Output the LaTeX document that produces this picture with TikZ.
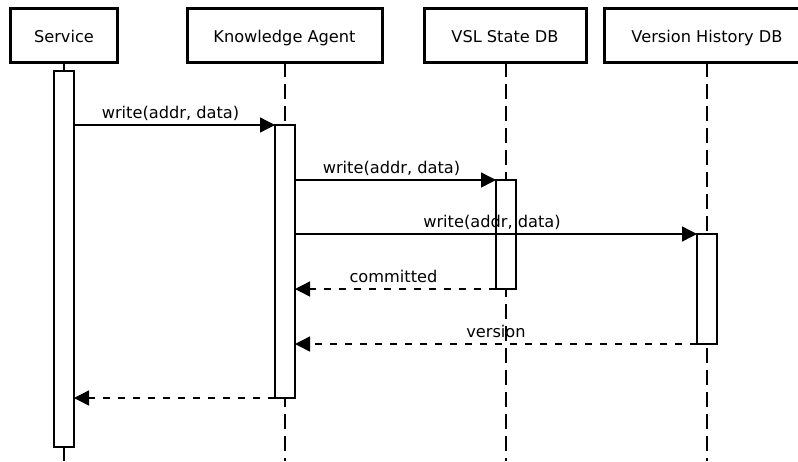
\documentclass[tikz,border=0pt]{standalone}
\usepackage{fontspec}
\setmainfont{DejaVu Sans}
\usetikzlibrary{arrows.meta}
\tikzset{
  header/.style={draw, line width=3pt, fill=white, inner sep=0pt, outer sep=0pt,
    minimum height=54pt, text height=14.5pt, text depth=0pt,
    font=\fontsize{16.2}{19}\selectfont},
  actbox/.style={draw, line width=1.4pt, fill=white, inner sep=0pt, outer sep=0pt,
    minimum width=20pt},
  lifeline/.style={line width=1.6pt, dash pattern=on 15pt off 7pt},
  solidlife/.style={line width=1.6pt},
  msg/.style={line width=1.4pt, -{Triangle[length=15pt,width=15pt]}},
  reply/.style={msg, dash pattern=on 7pt off 8pt},
  msglabel/.style={anchor=base, inner sep=0pt, font=\fontsize{16.2}{19}\selectfont}
}
\begin{document}
\begin{tikzpicture}[x=1pt,y=-1pt]
  \fill[white] (0,0) rectangle (798,461);
  \useasboundingbox (0,0) rectangle (798,461);
  \clip (0,0) rectangle (798,461);

  % participants
  \node[header, minimum width=107pt] (svc) at (64,35) {Service};
  \node[header, minimum width=195pt] (ka)  at (284.5,35) {Knowledge Agent};
  \node[header, minimum width=162pt] (vsl) at (505,35) {VSL State DB};
  \node[header, minimum width=206pt] (vh)  at (707,35) {Version History DB};

  % lifelines
  \coordinate (svcend) at (64,461);
  \coordinate (kaend)  at (285,461);
  \coordinate (vslend) at (506,461);
  \coordinate (vhend)  at (707,461);
  \draw[solidlife] (svc.south) -- (svcend);
  \draw[lifeline] (285,62) -- (kaend);
  \draw[lifeline] (506,62) -- (vslend);
  \draw[lifeline] (707,62) -- (vhend);

  % activation bars
  \node[actbox, minimum height=376pt] (svcact) at (64,259) {};
  \node[actbox, minimum height=273pt] (kaact)  at (285,261.5) {};
  \node[actbox, minimum height=109pt] (vslact) at (506,234.5) {};
  \node[actbox, minimum height=110pt] (vhact)  at (707,289) {};

  % calls
  \draw[msg] (svcact.east |- kaact.north) -- (kaact.north west)
    node[msglabel, pos=0.48, yshift=7pt] {write(addr, data)};
  \draw[msg] (kaact.east |- vslact.north) -- (vslact.north west)
    node[msglabel, pos=0.48, yshift=7pt] {write(addr, data)};
  \draw[msg] (kaact.east |- vhact.north) -- (vhact.north west)
    node[msglabel, pos=0.49, yshift=7pt] {write(addr, data)};

  % replies
  \draw[reply] (vslact.south west) -- (kaact.east |- vslact.south)
    node[msglabel, pos=0.51, yshift=7pt] {committed};
  \draw[reply] (vhact.south west) -- (kaact.east |- vhact.south)
    node[msglabel, pos=0.5, yshift=7pt] {version};
  \draw[reply] (kaact.south west) -- (svcact.east |- kaact.south);
\end{tikzpicture}
\end{document}
